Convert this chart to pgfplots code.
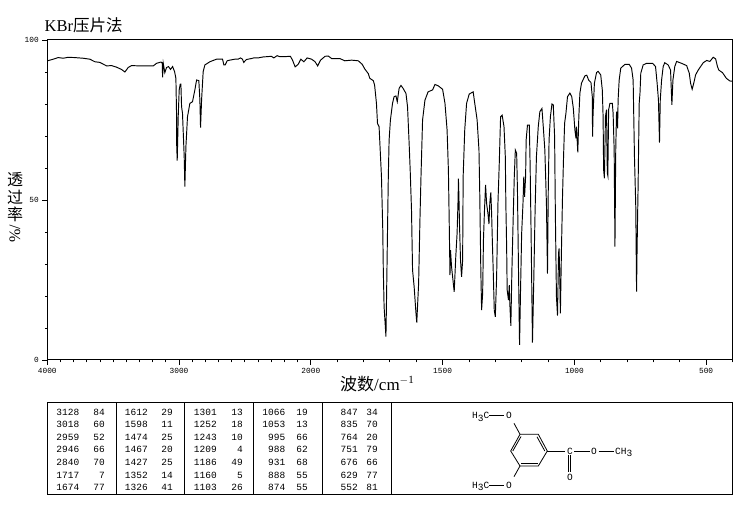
\documentclass[border=0pt]{standalone}
\usepackage{pgfplots}
\usepackage{pgfplotstable}
\usepackage{fontspec}
\pgfplotsset{compat=1.18}
\setmainfont{Liberation Serif}
\newfontfamily\cjk{Noto Sans CJK SC}
\newfontfamily\mono{Liberation Mono}
\newcommand{\low}[1]{\raisebox{-2.2pt}{#1}}
\pgfplotstableread{
wn T
3998 93.5
3955 94
3917 94.5
3879 94.3
3841 94.6
3791 94.5
3728 94.3
3677 94
3639 93.2
3601 93
3550 91.9
3512 92
3474 91.5
3437 90.8
3411 90
3386 91.4
3361 92
3297 91.9
3247 91.9
3196 91.9
3171 92.7
3138 93.1
3128 92.9
3125 88.3
3120 92.7
3108 89.8
3095 91.4
3080 91.7
3065 90.8
3049 91.7
3034 90.1
3024 88
3019 76.6
3018 67.2
3014 62.3
3006 76.6
2999 84.4
2991 86.2
2986 86.2
2981 79.2
2974 77.1
2966 68.8
2961 63.5
2956 54.2
2948 66.7
2936 76
2918 80.2
2898 80.7
2880 84.4
2867 87.5
2850 87.3
2842 81.3
2837 72.6
2829 81.3
2817 90.1
2804 92.2
2766 93.2
2716 94
2670 94
2660 92.2
2650 92.2
2635 93.5
2615 93.7
2577 94
2552 94
2534 94.4
2519 94
2509 93
2489 93.9
2451 94.2
2433 94.4
2400 94.4
2362 94.7
2299 94.9
2281 94.4
2256 95.1
2236 94.8
2198 94.8
2155 94.9
2139 93.7
2119 91.6
2096 92.4
2076 94
2053 93.2
2028 94.4
1997 94
1984 93.2
1974 91.9
1963 93.7
1946 94.9
1934 95
1921 94.2
1890 94.2
1871 93.5
1845 93.7
1820 93.5
1805 92.4
1795 90.9
1782 89.5
1776 88
1763 87.3
1758 85.9
1751 80.2
1747 73.9
1741 72.9
1738 67.7
1732 57.3
1727 40.6
1725 28.1
1722 16.6
1718 11.4
1715 7.3
1713 17.7
1709 40.6
1706 57.3
1703 68.7
1698 75
1690 80.2
1684 82.3
1677 82.5
1672 80.7
1665 84.9
1658 85.8
1650 84.9
1639 83.3
1633 79.1
1627 67.7
1623 59.4
1618 46.9
1614 28.1
1608 22.9
1601 14.6
1598 11.7
1591 23.9
1586 43.7
1582 57.3
1576 75
1567 81.2
1555 83.8
1538 84.4
1529 86.1
1517 85.7
1500 84.6
1491 80.2
1483 71.9
1478 59.4
1475 43.7
1472 26.5
1470 34.3
1466 29.1
1462 26
1456 21.3
1450 32.3
1445 39.6
1441 51
1440 56.7
1438 51
1436 42.7
1432 31.2
1428 26
1424 31.2
1422 57.3
1416 71.9
1409 80.2
1399 83.1
1384 83.8
1378 80.2
1369 75
1362 65.6
1359 52
1355 28.1
1352 15.6
1348 20.8
1345 37.5
1341 46.9
1337 54.7
1333 48.9
1328 45.8
1324 42.5
1321 48.9
1317 52.4
1314 45.8
1311 36.4
1308 28.1
1304 15.6
1300 13.5
1295 26
1290 48.9
1285 61.4
1280 76
1274 76.5
1267 72.9
1262 63.5
1260 48.9
1257 35.4
1255 21.9
1250 18.7
1247 23.4
1245 17.7
1241 10.7
1237 28.1
1232 44.8
1228 57.3
1224 65.6
1219 64.6
1216 53.1
1212 28.1
1208 4.7
1204 22.9
1200 39.6
1195 48.9
1192 57.3
1189 51
1185 57.3
1183 68.7
1178 73.4
1171 73.4
1168 61.4
1164 38.5
1159 5.4
1154 25
1149 46.9
1144 63.5
1137 72.9
1131 77.6
1123 78.6
1118 72.9
1112 65.6
1106 48.9
1102 27
1099 53.2
1096 68.8
1091 76
1085 80
1080 79.7
1075 69.8
1072 44.8
1068 19.8
1064 13.9
1060 33.4
1058 34.9
1055 24
1053 14.6
1049 34.4
1045 51
1041 63.6
1037 74
1032 77.1
1026 82.3
1017 83.4
1010 82.3
1004 78.7
998 71.9
994 69.3
992 72.9
987 64.9
983 76.1
979 83.4
973 86.5
960 88.8
953 89
946 87.5
937 86.7
932 82.3
931 69.8
929 77.1
924 86.5
916 89.8
910 90.2
900 89.1
894 84.4
891 76.1
889 59.4
886 56.8
882 76.1
878 78.2
875 58.4
873 57.6
870 78.2
865 80.2
856 80.2
853 77.1
849 65.6
846 35.4
843 65.6
840 77.6
836 72.4
834 81.3
830 87.5
824 91.2
808 92.4
792 92.4
783 91.2
777 87.5
772 63.6
767 47.9
764 21.4
762 34.9
758 55.2
754 80.2
751 83.4
748 89.6
739 92.2
726 92.7
703 92.7
692 91.7
686 86.5
681 81.3
677 67.9
674 81.3
669 87.5
663 91.7
657 92.9
644 92.2
635 90.6
630 79.7
626 87.5
619 91.7
612 93.3
593 92.7
574 92
564 89.6
559 86.5
553 84.6
547 86.5
540 89.1
530 90.6
511 92.9
498 93.6
486 93.3
473 94.6
464 94.1
457 91.7
452 90.6
438 89.8
423 88
410 87.2
401 87.1
}\spectrum
\begin{document}
\begin{tikzpicture}
\useasboundingbox (0,0) rectangle (737pt,510pt);
\begin{axis}[
  at={(47.3pt,150pt)},anchor=south west,
  scale only axis,width=685.2pt,height=320pt,
  x coord trafo/.code={\pgfmathparse{#1>2000?2000+(#1-2000)/2:#1}},
  x dir=reverse,
  xmin=400,xmax=4000,ymin=0,ymax=100,
  xtick={4000,3000,2000,1500,1000,500},
  xticklabels={4000,3000,2000,1500,1000,500},
  minor xtick={3900,3800,3700,3600,3500,3400,3300,3200,3100,2900,2800,2700,2600,2500,2400,2300,2200,2100,1900,1800,1700,1600,1400,1300,1200,1100,900,800,700,600,400},
  ytick={0,50,100},
  minor ytick={10,20,30,40,60,70,80,90},
  xtick pos=bottom,ytick pos=left,
  tick align=outside,
  major tick length=5pt,minor tick length=2.5pt,
  every tick/.style={black,line width=0.9pt},
  axis line style={black,line width=1pt},
  tick label style={font=\mono\fontsize{7.8}{8}\selectfont},
  /pgf/number format/assume math mode=true,
  clip=false,
]
\addplot[black,line width=0.95pt,mark=none,sharp plot,line join=miter,miter limit=10] table[x=wn,y=T] {\spectrum};
\end{axis}
\begin{scope}[x=1pt,y=-1pt,shift={(0,510pt)}]
% titles
\node[anchor=base west,inner sep=0pt,font=\fontsize{16.5}{18}\selectfont] at (44.5,32) {KBr{\cjk 压片法}};
\node[inner sep=0pt,font=\cjk\fontsize{16}{17}\selectfont] at (15,180) {透};
\node[inner sep=0pt,font=\cjk\fontsize{16}{17}\selectfont] at (15,197) {过};
\node[inner sep=0pt,font=\cjk\fontsize{16}{17}\selectfont] at (15,214) {率};
\node[inner sep=0pt,rotate=90,font=\fontsize{16}{17}\selectfont] at (15,234) {\%/};
\node[inner sep=0pt,anchor=base,font=\fontsize{17}{18}\selectfont] at (377,391) {{\cjk 波数}/cm\raisebox{0.42em}{\fontsize{11}{12}\selectfont $-$1}};
% table frame
\draw[black,line width=1pt] (47,403) rectangle (732.3,495);
\foreach \x in {116,184,253,322,391} \draw[black,line width=1pt] (\x,403) -- (\x,495);
% table
\foreach \xa/\xb/\rows in {
 79.5/105/{3128/84,3018/60,2959/52,2946/66,2840/70,1717/7,1674/77},
 148/173/{1612/29,1598/11,1474/25,1467/20,1427/25,1352/14,1326/41},
 217/243/{1301/13,1252/18,1243/10,1209/4,1186/49,1160/5,1103/26},
 285.5/308/{1066/19,1053/13,995/66,988/62,931/68,888/55,874/55},
 358/378/{847/34,835/70,764/20,751/79,676/66,629/77,552/81}}{
  \foreach \a/\b [count=\i] in \rows {
    \pgfmathsetmacro{\yy}{415.3+(\i-1)*12.55}
    \node[anchor=base east,inner sep=0pt,font=\mono\fontsize{9.5}{10}\selectfont] at (\xa,\yy) {\a};
    \node[anchor=base east,inner sep=0pt,font=\mono\fontsize{9.5}{10}\selectfont] at (\xb,\yy) {\b};
  }
}
% molecule
\begin{scope}[black,line width=0.8pt]
\draw (520,434.3) -- (538.3,434.3) -- (547.3,451) -- (538.3,466) -- (520,466) -- (510.7,451) -- cycle;
\draw (521,436.5) -- (512.8,451);
\draw (537,436.8) -- (544.8,451);
\draw (521,463.6) -- (537.5,463.6);
\draw (520,434.3) -- (514,423.3);
\draw (520,466) -- (514,476.7);
\draw (489.3,415.7) -- (503.5,415.7);
\draw (489.3,485) -- (503.5,485);
\draw (547.3,451) -- (565,451);
\draw (574,451) -- (590,451);
\draw (598.5,451) -- (614,451);
\draw (568.5,455) -- (568.5,472.5);
\draw (570.8,455) -- (570.8,472.5);
\end{scope}
\begin{scope}[every node/.style={inner sep=0pt,font=\mono\fontsize{9.5}{10}\selectfont}]
\node at (509,415.7) {O};
\node at (509,485) {O};
\node at (570,451) {C};
\node at (594,451) {O};
\node at (570,477) {O};
\node[anchor=base east] at (489.5,419) {H\low{3}C};
\node[anchor=base east] at (489.5,488.3) {H\low{3}C};
\node[anchor=base west] at (615,454.3) {CH\low{3}};
\end{scope}
\end{scope}
\end{tikzpicture}
\end{document}
